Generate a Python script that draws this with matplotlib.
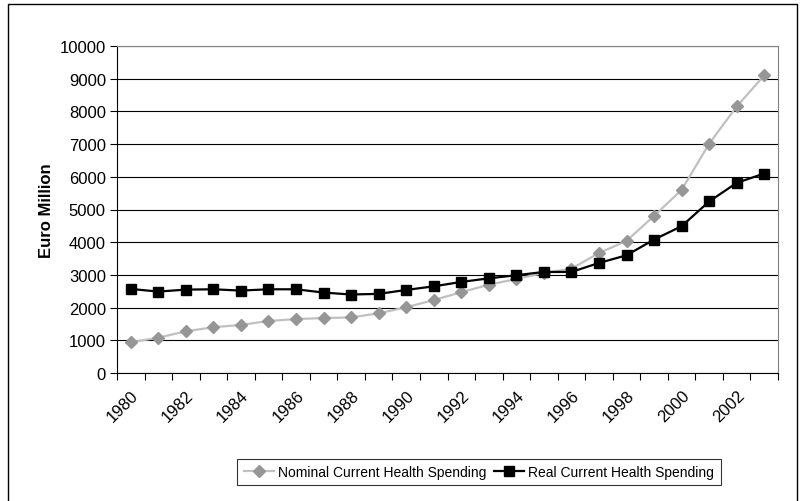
import matplotlib
matplotlib.use("Agg")
import matplotlib.pyplot as plt
from matplotlib.patches import Rectangle

years = list(range(1980, 2004))
nominal = [940, 1080, 1275, 1400, 1470, 1590, 1650, 1680, 1700, 1825, 2010, 2230,
           2470, 2700, 2875, 3060, 3190, 3670, 4040, 4805, 5600, 7010, 8150, 9100]
real = [2570, 2490, 2550, 2560, 2520, 2560, 2560, 2460, 2400, 2420, 2540, 2650,
        2785, 2895, 2990, 3090, 3090, 3365, 3600, 4080, 4490, 5245, 5815, 6100]
y_ticks = list(range(0, 10001, 1000))

plt.rcParams["font.family"] = ["Liberation Sans", "DejaVu Sans"]

fig = plt.figure(figsize=(8.0, 5.02), dpi=100)
ax = fig.add_axes([117 / 800, 1 - 374 / 502, 661 / 800, 327 / 502])

# outer chart border like the Excel chart area
fig.patches.append(Rectangle((8 / 800, -0.01), 789 / 800, 1 - 5 / 502 + 0.01,
                             transform=fig.transFigure, fill=False,
                             edgecolor="black", linewidth=1.0))

x = list(range(len(years)))
ax.plot(x, nominal, color="#c0c0c0", linewidth=1.6, marker="D", markersize=6,
        markerfacecolor="#969696", markeredgecolor="#969696",
        label="Nominal Current Health Spending", zorder=3)
ax.plot(x, real, color="black", linewidth=1.6, marker="s", markersize=7,
        markerfacecolor="black", markeredgecolor="black",
        label="Real Current Health Spending", zorder=4)

ax.set_xlim(-0.5, len(years) - 0.5)
ax.set_ylim(0, 10000)
ax.set_yticks(y_ticks)
ax.yaxis.grid(True, color="black", linewidth=0.8)
ax.set_axisbelow(True)

# tick marks between categories, labels every second year
ax.set_xticks([i - 0.5 for i in range(len(years) + 1)])
ax.set_xticklabels([])
ax.set_xticks(x[::2], minor=True)
ax.set_xticklabels([str(y) for y in years[::2]], minor=True, rotation=45,
                   ha="right", rotation_mode="anchor", fontsize=12)
ax.tick_params(axis="x", which="major", direction="out", length=5, color="black")
ax.tick_params(axis="x", which="minor", length=0, pad=10)
ax.tick_params(axis="y", direction="out", length=5, labelsize=12, pad=3)

for side in ["top", "right"]:
    ax.spines[side].set_color("#808080")
for side in ["left", "bottom"]:
    ax.spines[side].set_color("black")

ax.set_ylabel("Euro Million", fontsize=12, fontweight="bold", labelpad=4)

leg = ax.legend(loc="center", bbox_to_anchor=(479 / 800, 1 - 473 / 502),
                bbox_transform=fig.transFigure, ncol=2, frameon=True,
                fancybox=False, edgecolor="black", fontsize=10,
                handlelength=2.2, handletextpad=0.3, columnspacing=0.5,
                borderpad=0.45)
leg.get_frame().set_linewidth(0.8)

fig.savefig("out.png", dpi=100)
